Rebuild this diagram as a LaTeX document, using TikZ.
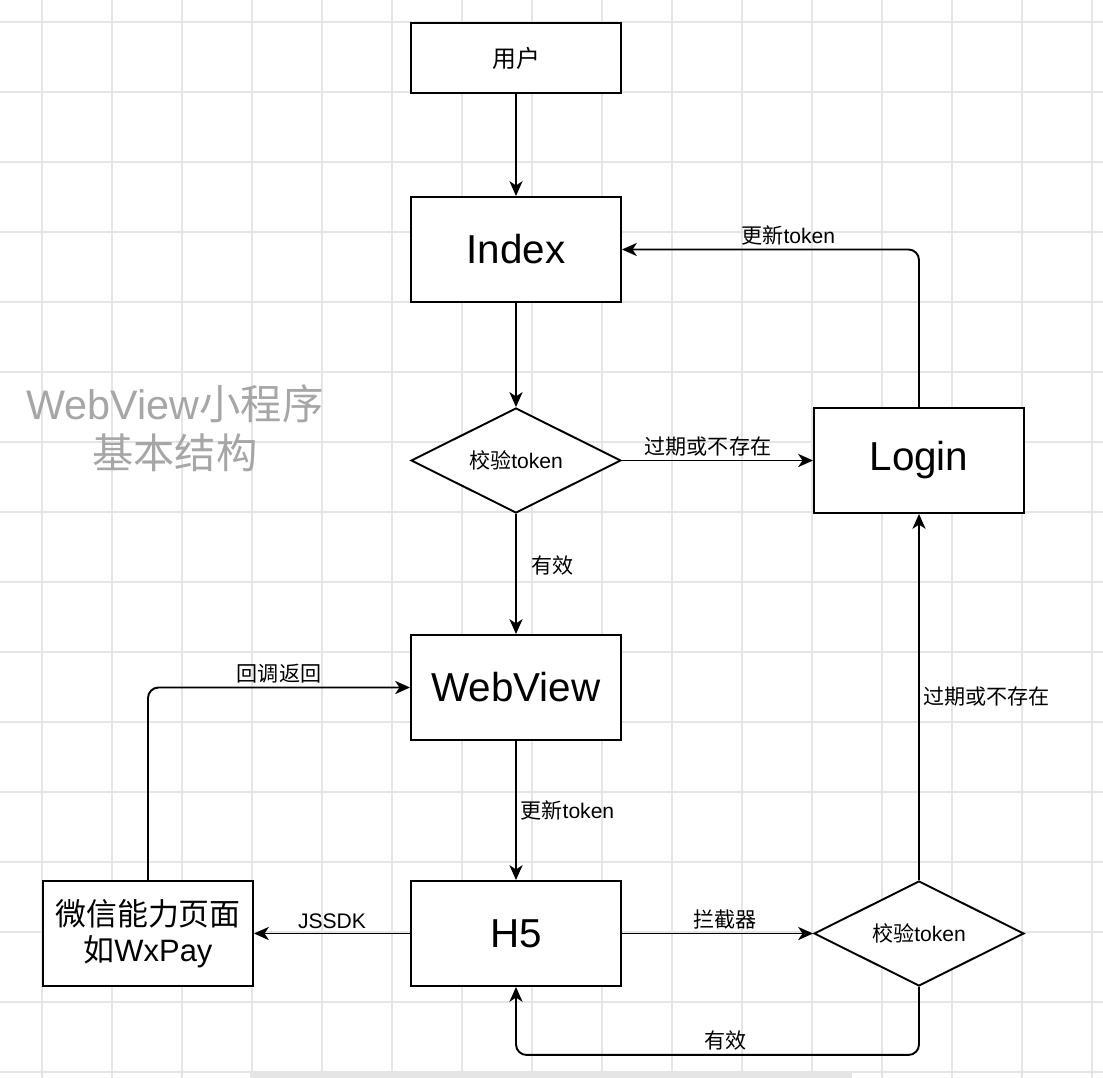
\documentclass[tikz,border=0pt]{standalone}
\usepackage{fontspec}
\setmainfont{Liberation Sans}
\newfontfamily\cjk{Noto Sans CJK SC}
\usetikzlibrary{shapes.geometric,arrows.meta}

\begin{document}
\begin{tikzpicture}[x=0.02cm, y=-0.02cm,
 >={Stealth[length=8.5pt,width=7.5pt,inset=2.5pt]},
 every edge/.style = {->, draw, line width=1.1pt},
 blk/.style = {rectangle, draw, line width=1.1pt, fill=white, minimum width=4.2cm, minimum height=2.1cm, inner sep=0pt, font=\fontsize{23pt}{27pt}\selectfont},
 chk/.style = {diamond, draw, line width=1.1pt, fill=white, aspect=2, minimum width=4.2cm, minimum height=2.1cm, inner sep=0pt, font=\fontsize{12pt}{14pt}\selectfont},
 lbl/.style = {font=\fontsize{12pt}{14pt}\selectfont, inner sep=2pt},
 elbow/.style = {->, draw, line width=1.1pt, rounded corners=6pt},
 gridline/.style = {draw=black!10, line width=0.7pt}]

\useasboundingbox (0,0) rectangle (1103,1078);

% background grid
\foreach \gx in {42,112,...,1092} \draw[gridline] (\gx,0) -- (\gx,1078);
\foreach \gy in {22,92,...,1072} \draw[gridline] (0,\gy) -- (1103,\gy);
\fill[black!10] (250,1073) rectangle (852,1078);

\node(title) [align=center, text=black!35, font=\fontsize{23.5pt}{27.8pt}\selectfont] at (175,428) {WebView{\cjk 小程序}\\{\cjk 基本结构}};

\node(user) [blk, minimum height=1.4cm, font=\cjk\fontsize{13.6pt}{16pt}\selectfont] at (516,58) {用户};
\node(index) [blk] at (516,249.5) {Index};
\node(chk1) [chk] at (516,460.5) {{\cjk 校验}token};
\node(login) [blk] at (919,460.5) {Login};
\node(webview) [blk] at (516,687.5) {WebView};
\node(h5) [blk] at (516,933.5) {H5};
\node(wx) [blk, align=center, font=\fontsize{17.6pt}{20.4pt}\selectfont] at (148,933.5) {{\cjk 微信能力页面}\\{\cjk 如}WxPay};
\node(chk2) [chk] at (919,933.5) {{\cjk 校验}token};
%
\path   (user) edge (index)
        (index) edge (chk1)
        (chk1) edge node[lbl, above, pos=0.45] {\cjk 过期或不存在} (login)
        (chk1) edge node[lbl, right=6pt, pos=0.43] {\cjk 有效} (webview)
        (webview) edge node[lbl, right] {{\cjk 更新}token} (h5)
        (h5) edge node[lbl, above] {JSSDK} (wx)
        (h5) edge node[lbl, above, pos=0.54] {\cjk 拦截器} (chk2)
        (chk2) edge node[lbl, right] {\cjk 过期或不存在} (login);

\draw[elbow] (login) |- node[lbl, above, pos=0.72] {{\cjk 更新}token} (index);
\draw[elbow] (wx) |- node[lbl, above, pos=0.75] {\cjk 回调返回} (webview);
\draw[elbow] (chk2.south) -- ++(0,68) -| node[lbl, above, pos=0.24] {\cjk 有效} (h5);

\end{tikzpicture}
\end{document}
